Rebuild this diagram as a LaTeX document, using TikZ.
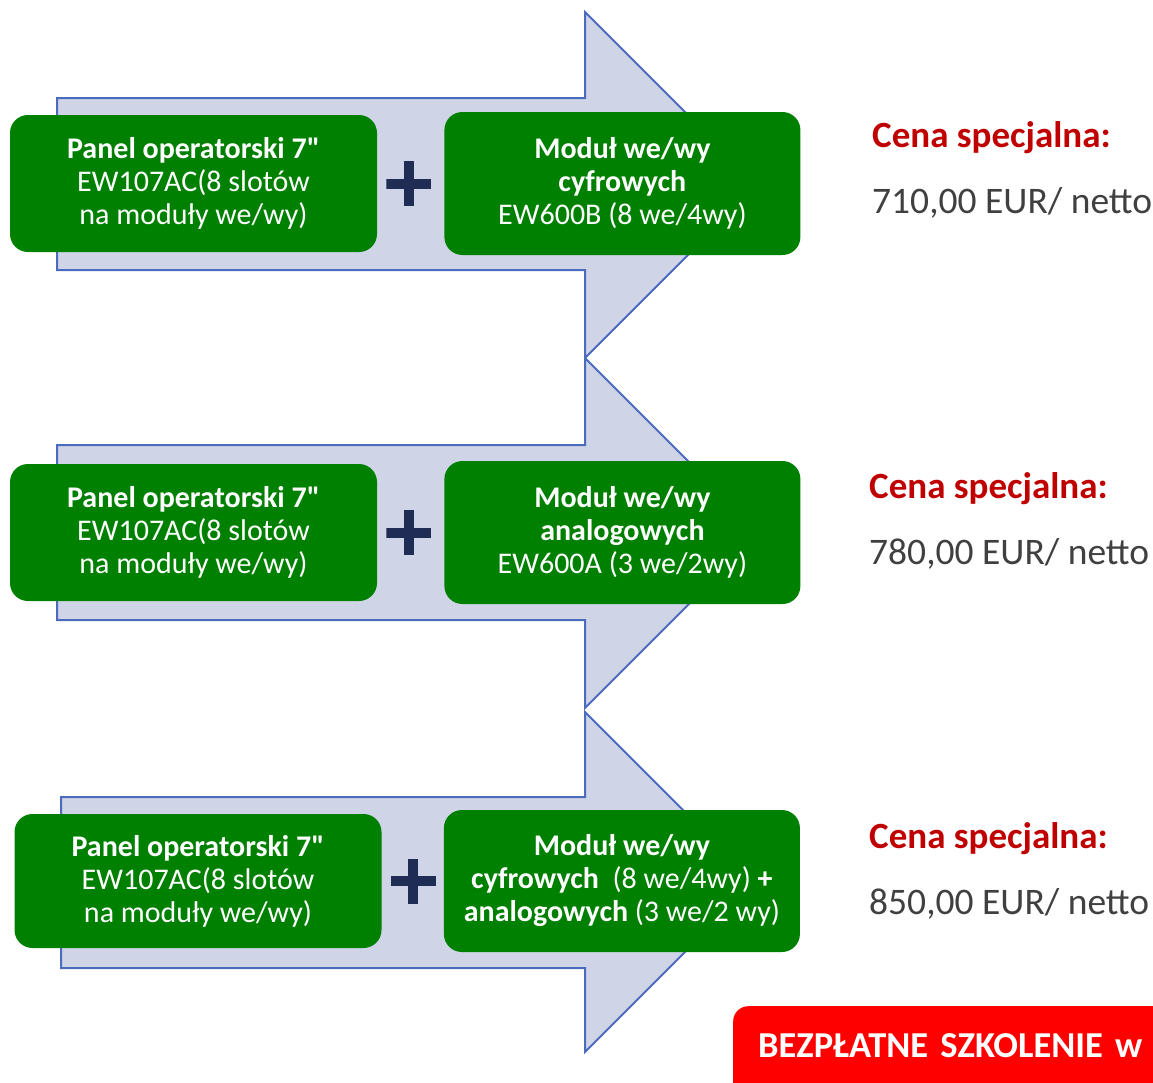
\documentclass[tikz,border=0pt]{standalone}
\usepackage{fontspec}
\newfontfamily\carlito{Carlito}
\usetikzlibrary{positioning}

\definecolor{boxgreen}{HTML}{008000}
\definecolor{arrowfill}{HTML}{CFD4E6}
\definecolor{arrowline}{HTML}{4A6BBE}
\definecolor{plusnavy}{HTML}{1F2D55}
\definecolor{pricered}{HTML}{C00000}
\definecolor{pricegray}{HTML}{404040}

\begin{document}
\begin{tikzpicture}[x=1pt,y=-1pt,
    bigarrow/.style={fill=arrowfill,draw=arrowline,line width=2pt},
    panel/.style={rectangle,rounded corners=18pt,fill=boxgreen,text=white,align=center,
        minimum width=367pt,minimum height=137pt,inner sep=0pt,font=\carlito\fontsize{30}{33}\selectfont},
    module/.style={panel,minimum width=356pt,minimum height=143pt},
    plussign/.style={minimum size=45pt,inner sep=0pt,path picture={
        \fill[plusnavy] ([xshift=-5pt]path picture bounding box.north) rectangle ([xshift=5pt]path picture bounding box.south);
        \fill[plusnavy] ([yshift=-5pt]path picture bounding box.west) rectangle ([yshift=5pt]path picture bounding box.east);}},
    cena/.style={anchor=base west,inner sep=0pt,text=pricered,font=\carlito\fontsize{37}{44}\selectfont\bfseries},
    price/.style={anchor=base west,inner sep=0pt,text=pricegray,font=\carlito\fontsize{37.5}{44}\selectfont},
    badge/.style={rectangle,rounded corners=15pt,fill=red,text=white,anchor=north west,
        text width=440pt,align=left,inner xsep=25pt,inner ysep=29pt,text height=22pt,text depth=60pt,
        font=\carlito\fontsize{36.5}{42}\selectfont\bfseries}]
    \useasboundingbox (0,0) rectangle (1153,1082);

    % arrows behind the boxes
    \draw[bigarrow] (57,98) -- (585,98) -- (585,12) -- (758,185) -- (585,358) -- (585,270) -- (57,270) -- cycle;
    \draw[bigarrow] (57,445) -- (585,445) -- (585,358) -- (760,533) -- (585,708) -- (585,620) -- (57,620) -- cycle;
    \draw[bigarrow] (61,797) -- (585,797) -- (585,712) -- (755,882) -- (585,1052) -- (585,968) -- (61,968) -- cycle;

    \node[panel] (panel1) at (193.5,183.5) {\textbf{Panel operatorski 7"}\\EW107AC(8 slotów\\na moduły we/wy)};
    \node[plussign, right=9pt of panel1] (plus1) {};
    \node[module, right=67pt of panel1] (mod1) {\textbf{Moduł we/wy}\\\textbf{cyfrowych}\\EW600B (8 we/4wy)};

    \node[panel] (panel2) at (193.5,532.5) {\textbf{Panel operatorski 7"}\\EW107AC(8 slotów\\na moduły we/wy)};
    \node[plussign, right=9pt of panel2] (plus2) {};
    \node[module, right=67pt of panel2] (mod2) {\textbf{Moduł we/wy}\\\textbf{analogowych}\\EW600A (3 we/2wy)};

    \node[panel, minimum height=134pt] (panel3) at (198,881) {\textbf{Panel operatorski 7"}\\EW107AC(8 slotów\\na moduły we/wy)};
    \node[plussign, right=9pt of panel3] (plus3) {};
    \node[module, minimum height=142pt, right=62pt of panel3] (mod3) {\textbf{Moduł we/wy}\\\textbf{cyfrowych}\ \ (8 we/4wy) \textbf{+}\\\textbf{analogowych} (3 we/2 wy)};

    % prices
    \node[cena] (cena1) at (872,147) {Cena specjalna:};
    \node[price] (netto1) at (872,213) {710,00 EUR/ netto};
    \node[cena] (cena2) at (869,498) {Cena specjalna:};
    \node[price] (netto2) at (869,564) {780,00 EUR/ netto};
    \node[cena] (cena3) at (869,848) {Cena specjalna:};
    \node[price] (netto3) at (869,914) {850,00 EUR/ netto};

    \node[badge] (szkolenie) at (733,1006) {BEZPŁATNE SZKOLENIE w};
\end{tikzpicture}
\end{document}
